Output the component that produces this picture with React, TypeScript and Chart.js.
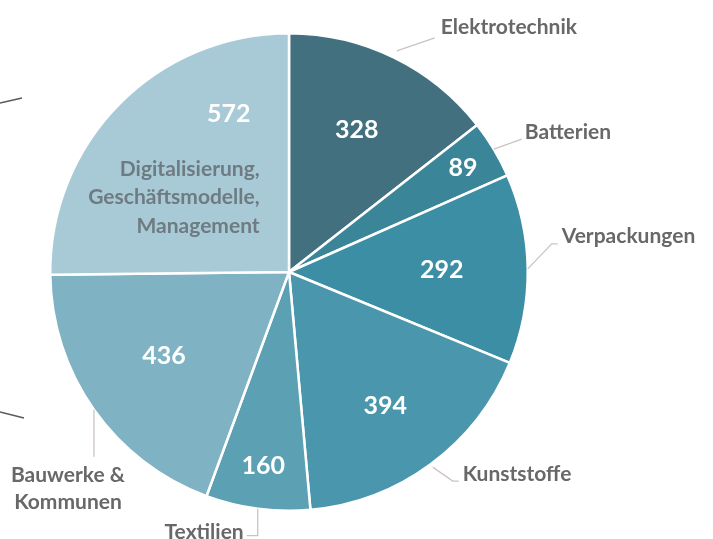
import React, { useEffect, useRef } from "react";
import { Chart, registerables } from "chart.js";

Chart.register(...registerables);

const categories = [
  "Elektrotechnik",
  "Batterien",
  "Verpackungen",
  "Kunststoffe",
  "Textilien",
  "Bauwerke & Kommunen",
  "Digitalisierung, Geschäftsmodelle, Management",
];
const values = [328, 89, 292, 394, 160, 436, 572];
const colors = ["#42707f", "#3b8599", "#3b8ea3", "#4a97ad", "#5ca0b4", "#7fb2c3", "#a8cad6"];

// outer label lines (text lines per slice; null = label inside)
const outerText: (string[] | null)[] = [
  ["Elektrotechnik"],
  ["Batterien"],
  ["Verpackungen"],
  ["Kunststoffe"],
  ["Textilien"],
  ["Bauwerke &", "Kommunen"],
  null,
];
const innerText = ["Digitalisierung,", "Geschäftsmodelle,", "Management"];

// placement (styles / positions), not data
const numPlace = [
  { f: 0.49, r: 0.66 },
  { f: 0.5, r: 0.85 },
  { f: 0.5, r: 0.64 },
  { f: 0.51, r: 0.69 },
  { f: 0.5, r: 0.82 },
  { f: 0.52, r: 0.63 },
  { f: 0.77, r: 0.71 },
];
const callouts = [
  { f: 0.5, r: 1.03, path: [[38, -13]], tx: 6, ty: -4, align: "left" },
  { f: 0.5, r: 1.0, path: [[28, -10]], tx: 3, ty: 0, align: "left" },
  { f: 0.5, r: 1.0, path: [[24, -25], [6, 0]], tx: 4, ty: -1, align: "left" },
  { f: 0.5, r: 1.015, path: [[20, 14], [6, 0]], tx: 4, ty: 0, align: "left" },
  { f: 0.5, r: 1.0, path: [[0, 27], [-11, 0]], tx: -3, ty: 3, align: "right" },
  { f: 0.5, r: 1.0, path: [[0, 47]], tx: -26, ty: 25, align: "center" },
  null,
];

const labelPlugin = {
  id: "labels",
  afterDatasetsDraw(chart: any) {
    const ctx = chart.ctx;
    const meta = chart.getDatasetMeta(0);
    ctx.save();
    meta.data.forEach((arc: any, i: number) => {
      const { x, y, startAngle, endAngle, outerRadius } = arc.getProps(
        ["x", "y", "startAngle", "endAngle", "outerRadius"],
        true
      );
      // numbers
      const np = numPlace[i];
      const a = startAngle + (endAngle - startAngle) * np.f;
      const nx = x + Math.cos(a) * outerRadius * np.r;
      const ny = y + Math.sin(a) * outerRadius * np.r;
      ctx.fillStyle = "#ffffff";
      ctx.font = "bold 25px Lato";
      ctx.textAlign = "center";
      ctx.textBaseline = "middle";
      ctx.fillText(String(values[i]), nx, ny);
      if (i === 6) {
        ctx.fillStyle = "#6f7b82";
        ctx.font = "bold 21px Lato";
        ctx.textAlign = "right";
        ctx.textBaseline = "alphabetic";
        innerText.forEach((t, k) => ctx.fillText(t, nx + 31, ny + 62 + k * 28.5));
      }
      const c = callouts[i];
      const txt = outerText[i];
      if (c && txt) {
        const ca = startAngle + (endAngle - startAngle) * c.f;
        let px = x + Math.cos(ca) * outerRadius * c.r;
        let py = y + Math.sin(ca) * outerRadius * c.r;
        ctx.strokeStyle = "#cdc2c2";
        ctx.lineWidth = 1.3;
        ctx.beginPath();
        ctx.moveTo(px, py);
        c.path.forEach(([dx, dy]) => {
          px += dx;
          py += dy;
          ctx.lineTo(px, py);
        });
        ctx.stroke();
        ctx.fillStyle = "#686868";
        ctx.font = "bold 21px Lato";
        ctx.textAlign = c.align;
        ctx.textBaseline = "alphabetic";
        txt.forEach((t, k) => ctx.fillText(t, px + c.tx, py + c.ty + k * 27));
      }
    });
    // cropped leader lines at the left edge
    ctx.strokeStyle = "#5a5a5a";
    ctx.lineWidth = 1.5;
    ctx.beginPath();
    ctx.moveTo(0, 103);
    ctx.lineTo(22, 98);
    ctx.moveTo(0, 412);
    ctx.lineTo(24, 418);
    ctx.stroke();
    ctx.restore();
  },
};

export default function App() {
  const ref = useRef<HTMLCanvasElement>(null);
  useEffect(() => {
    if (!ref.current) return;
    const chart = new Chart(ref.current, {
      type: "pie",
      data: {
        labels: categories,
        datasets: [
          {
            data: values,
            backgroundColor: colors,
            borderColor: "#ffffff",
            borderWidth: 2.5,
          },
        ],
      },
      options: {
        responsive: false,
        animation: false,
        layout: { padding: { left: 49, right: 184, top: 32, bottom: 27 } },
        plugins: { legend: { display: false }, tooltip: { enabled: false } },
      },
      plugins: [labelPlugin],
    });
    return () => chart.destroy();
  }, []);
  return (
    <div style={{ position: "fixed", left: 0, top: 0, width: 713, height: 539, background: "#fff" }}>
      <canvas ref={ref} width={713} height={539} />
    </div>
  );
}
